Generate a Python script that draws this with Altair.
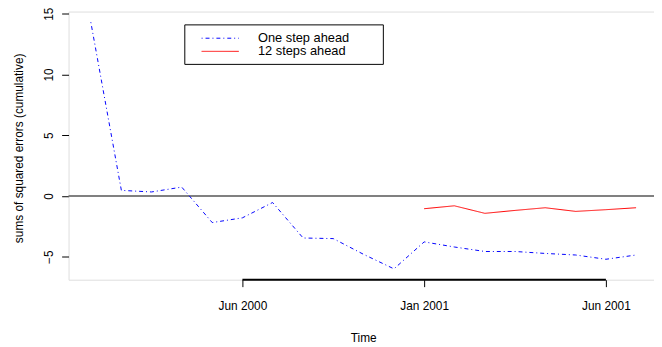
import altair as alt
import pandas as pd

# ---- data ----
one_step_time = [2000.083, 2000.167, 2000.25, 2000.333, 2000.417, 2000.5, 2000.583,
                 2000.667, 2000.75, 2000.833, 2000.917, 2001.0, 2001.083, 2001.167,
                 2001.25, 2001.333, 2001.417, 2001.5, 2001.583]
one_step_vals = [14.3, 0.46, 0.33, 0.73, -2.19, -1.8, -0.54, -3.46, -3.51, -4.8, -6.0,
                 -3.78, -4.2, -4.57, -4.57, -4.73, -4.86, -5.21, -4.86]
twelve_time = [2001.0, 2001.083, 2001.167, 2001.25, 2001.333, 2001.417, 2001.5, 2001.583]
twelve_vals = [-1.05, -0.81, -1.43, -1.19, -0.97, -1.27, -1.13, -0.97]

series_names = ["One step ahead", "12 steps ahead"]
series_colors = ["#0000FF", "#FF0000"]
series_dashes = [[1, 3, 4, 3], [1, 0]]

x_tick_values = [2000.5, 2001.0, 2001.5]
x_tick_labels = ["Jun 2000", "Jan 2001", "Jun 2001"]
y_tick_values = [-5, 0, 5, 10, 15]
zero_level = [0]

x_domain = [2000.0217, 2001.6323]
y_domain = [-6.894, 15.179]

# ---- tables ----
df = pd.concat([
    pd.DataFrame({"time": one_step_time, "value": one_step_vals, "series": series_names[0]}),
    pd.DataFrame({"time": twelve_time, "value": twelve_vals, "series": series_names[1]}),
])
zero_df = pd.DataFrame({"y": zero_level})
axisline_df = pd.DataFrame({"x": [x_tick_values[0]], "x2": [x_tick_values[-1]]})

label_expr = " : ".join(
    f"datum.value == {v} ? '{l}'" for v, l in zip(x_tick_values[:-1], x_tick_labels[:-1])
) + f" : '{x_tick_labels[-1]}'"

W, H = 592.7, 271.5
FONT = "Liberation Sans"

x_scale = alt.Scale(domain=x_domain, zero=False, nice=False)
y_scale = alt.Scale(domain=y_domain, zero=False, nice=False)

x_axis = alt.Axis(values=x_tick_values, labelExpr=label_expr, title="Time",
                  domain=False, grid=False, ticks=True, tickSize=7, tickColor="black",
                  labelFontSize=12, labelColor="black", labelPadding=14,
                  labelFlush=False, labelOverlap=False,
                  titleFontSize=12, titleFontWeight="normal", titleColor="black",
                  titleX=298.3, titleY=58.5, titleBaseline="middle", titleAlign="center")
y_axis = alt.Axis(values=y_tick_values, title="sums of squared errors (cumulative)",
                  domain=False, grid=False, tickSize=7, tickColor="black",
                  labelAngle=-90, labelAlign="center", labelBaseline="bottom",
                  labelFontSize=12, labelColor="black", labelPadding=6,
                  labelFlush=False, labelOverlap=False,
                  titleFontSize=12, titleFontWeight="normal", titleColor="black",
                  titleAngle=-90, titleX=-51, titleY=138, titleBaseline="middle",
                  titleAlign="center")

zero_rule = alt.Chart(zero_df).mark_rule(color="#808080", strokeWidth=2).encode(
    y=alt.Y("y:Q", scale=y_scale, axis=y_axis)
)

axis_seg = alt.Chart(axisline_df).mark_rule(color="black", strokeWidth=2).encode(
    x=alt.X("x:Q", scale=x_scale, axis=x_axis), x2="x2:Q", y=alt.value(H)
)

lines = alt.Chart(df).mark_line(strokeWidth=1, clip=True).encode(
    x=alt.X("time:Q", scale=x_scale, axis=x_axis),
    y=alt.Y("value:Q", scale=y_scale, axis=y_axis),
    color=alt.Color("series:N", scale=alt.Scale(domain=series_names, range=series_colors),
                    legend=None),
    strokeDash=alt.StrokeDash("series:N",
                              scale=alt.Scale(domain=series_names, range=series_dashes),
                              legend=None),
)

# ---- legend (drawn as a boxed key, like R's legend()) ----
LX0, LX1, LY0, LY1 = 117.7, 318.7, 13.5, 53.5
SYM_X0, SYM_X1, TXT_X = 134.7, 172.4, 191.7
ROW0, ROW_STEP = 27.0, 13.3

legend_box = alt.Chart(pd.DataFrame({"k": [0]})).mark_rect(
    fill="white", stroke="black", strokeWidth=1
).encode(x=alt.value(LX0), x2=alt.value(LX1), y=alt.value(LY0), y2=alt.value(LY1))

legend_layers = [legend_box]
for i, (name, col, dash) in enumerate(zip(series_names, series_colors, series_dashes)):
    row_df = pd.DataFrame({"series": [name]})
    yy = ROW0 + ROW_STEP * i
    legend_layers.append(
        alt.Chart(row_df).mark_rule(color=col, strokeWidth=1, strokeDash=dash).encode(
            x=alt.value(SYM_X0), x2=alt.value(SYM_X1), y=alt.value(yy)
        )
    )
    legend_layers.append(
        alt.Chart(row_df).mark_text(align="left", baseline="middle", fontSize=13,
                                    font=FONT, color="black").encode(
            x=alt.value(TXT_X), y=alt.value(yy), text="series:N"
        )
    )

chart = alt.layer(zero_rule, axis_seg, lines, *legend_layers).properties(
    width=W, height=H,
    padding={"left": 61.3, "top": 1.5, "right": 0, "bottom": 64},
    autosize=alt.AutoSizeParams(type="none"),
).configure_view(stroke="#333333", strokeWidth=1.2).configure(
    font=FONT
).configure_axis(labelFont=FONT, titleFont=FONT)

chart.save("out.html", embed_options={"renderer": "svg", "actions": False})
